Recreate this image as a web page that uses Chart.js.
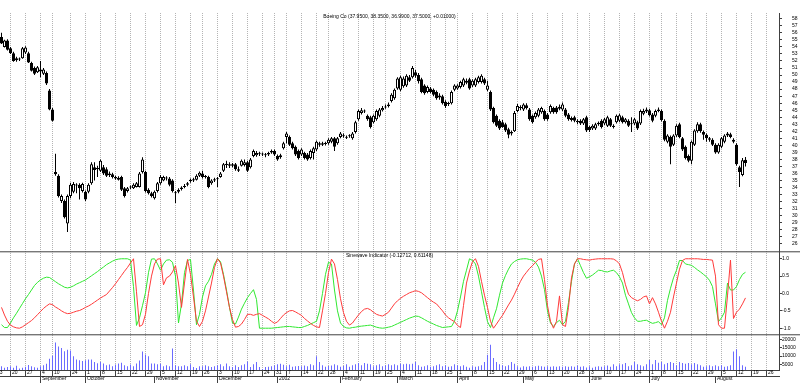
<!DOCTYPE html>
<html><head><meta charset="utf-8">
<script src="https://cdn.jsdelivr.net/npm/chart.js@4"></script>
<style>html,body{margin:0;padding:0;background:#fff;overflow:hidden}</style>
</head><body>
<canvas id="c" width="800" height="383"></canvas>
<script>
// ---------- categories (trading calendar) ----------
const calendarStart = '2001-08-13';
const calendarEnd = '2002-08-30';
const holidays = ['2001-09-03','2001-09-11','2001-09-12','2001-09-13','2001-09-14','2001-11-22','2001-12-25',
  '2002-01-01','2002-01-21','2002-02-18','2002-03-29','2002-05-27','2002-07-04'];
const dataStartOffset = 2; // first candle: 2001-08-15
const monthNames = ['2002','February','March','April','May','June','July','August','September','October','November','December'];

// ---------- series values (index 0 = 2001-08-15) ----------
const openPrices = [
55.4,54.0,54.9,53.8,53.1,52.4,52.2,52.4,53.2,53.1,
51.7,51.0,50.4,50.5,50.2,50.3,47.8,45.1,36.2,35.7,
32.1,32.1,28.9,32.8,33.4,34.3,34.4,33.5,33.4,33.4,
34.6,36.9,36.6,36.4,36.9,36.6,36.0,35.9,35.5,35.4,
35.5,33.9,33.5,34.0,33.9,34.1,34.1,36.2,36.2,33.7,
33.2,32.5,33.5,34.6,35.0,35.3,35.3,35.0,33.3,33.4,
33.8,34.1,34.4,34.9,35.0,35.1,35.7,36.0,35.6,35.5,
34.6,35.0,35.2,35.5,36.4,37.2,37.3,37.3,37.3,36.6,
37.1,37.2,37.6,36.9,38.5,38.6,38.9,38.8,38.7,38.7,
39.0,39.2,38.5,38.3,39.6,41.2,41.2,40.3,39.8,39.2,
38.7,38.9,38.7,38.2,38.9,39.4,40.3,40.1,40.2,40.3,
40.5,41.0,40.3,41.2,41.4,41.2,41.3,41.0,41.9,43.7,
44.6,44.9,44.2,44.0,43.3,43.7,44.2,45.0,45.4,45.6,
46.3,46.7,48.1,47.9,48.4,48.5,49.7,49.7,50.4,50.0,
49.4,48.5,47.6,48.1,47.9,47.6,47.1,47.0,46.2,45.9,
46.0,47.9,48.1,48.3,48.5,49.2,49.4,48.5,48.5,49.0,
49.0,49.4,47.9,47.6,45.3,44.2,43.5,43.3,43.0,42.3,
41.7,42.0,44.9,45.3,45.1,45.7,45.1,44.2,44.0,44.2,
44.7,44.9,44.4,44.7,45.3,45.4,45.2,45.1,45.1,44.4,
43.9,44.0,43.5,43.5,43.1,44.0,42.6,42.4,42.4,43.0,
43.5,43.1,42.8,43.7,42.8,43.3,43.5,44.0,43.3,43.5,
43.1,43.1,43.3,43.1,44.5,44.8,45.0,44.4,44.2,44.9,
44.9,43.5,40.5,41.2,40.1,41.4,43.0,41.0,39.8,38.5,
37.8,40.1,42.0,43.0,41.9,41.5,41.0,40.8,40.1,39.0,
39.8,40.5,41.4,41.6,40.8,40.1,36.9,35.8,37.95];
const highPrices = [
56.0,55.0,55.1,54.0,53.3,52.6,52.5,54.0,54.1,53.3,
51.9,51.2,51.3,52.0,51.0,50.5,48.0,45.3,38.8,35.9,
33.0,32.3,33.0,34.7,34.8,34.6,34.6,34.7,33.6,34.6,
37.6,37.6,37.1,38.0,37.2,36.9,36.3,36.1,35.7,35.6,
35.7,34.1,34.1,34.3,34.6,34.8,36.2,38.3,36.4,33.9,
33.4,33.6,34.8,35.8,35.7,35.6,35.5,35.2,33.5,33.9,
34.2,34.5,34.8,35.3,35.4,35.9,36.3,36.4,35.8,35.7,
35.2,35.4,35.5,36.2,37.5,37.8,37.6,37.5,37.5,37.0,
38.0,38.0,37.8,38.2,39.4,39.2,39.1,39.0,38.9,39.1,
39.4,39.4,38.7,38.8,40.5,41.9,41.4,40.5,40.0,39.4,
39.6,39.1,38.9,39.4,39.8,40.7,40.5,40.5,40.5,41.0,
41.2,41.2,41.2,41.9,41.7,41.4,41.6,41.9,43.5,45.1,
45.3,45.1,44.4,44.2,44.4,45.1,45.3,45.6,45.8,46.1,
47.4,48.1,49.7,49.9,49.8,50.1,50.0,51.3,50.7,50.3,
49.6,48.7,48.5,48.3,48.1,47.8,47.4,47.2,46.4,46.2,
47.8,48.7,48.7,49.2,49.6,49.5,49.6,49.4,49.6,49.9,
50.1,49.6,49.2,47.8,45.5,44.4,43.7,43.6,43.2,42.5,
42.1,44.9,45.9,45.7,46.0,46.0,45.3,44.4,44.8,45.3,
45.5,45.1,44.6,45.8,45.5,45.6,45.8,46.1,45.3,44.6,
44.1,44.2,43.7,43.7,43.9,44.2,42.8,43.0,43.2,43.4,
43.7,43.9,44.2,43.9,43.0,44.4,44.5,44.2,43.9,43.7,
44.0,43.9,43.5,45.1,45.2,45.4,45.2,44.6,45.1,45.4,
45.1,43.7,41.6,41.4,41.6,43.0,43.2,41.2,40.0,38.7,
40.7,42.3,43.3,43.2,42.1,41.7,41.2,41.0,40.3,40.3,
41.2,41.6,41.9,41.8,41.0,40.3,37.1,38.2,38.35];
const lowPrices = [
54.4,53.9,53.5,53.0,51.9,51.9,52.0,52.3,53.0,51.7,
50.5,50.0,50.3,49.7,50.0,48.6,45.0,43.4,35.7,32.6,
31.8,29.6,27.7,32.5,33.2,33.2,32.3,33.3,32.1,33.2,
34.4,35.0,35.5,36.2,35.8,35.5,35.5,35.3,35.1,35.0,
33.5,32.6,33.3,33.8,33.8,34.0,34.0,36.0,33.3,33.0,
32.6,32.3,33.3,34.4,34.9,35.0,34.2,33.3,31.8,33.2,
33.6,33.9,34.2,34.7,34.8,35.0,35.5,35.3,35.3,33.9,
34.4,34.8,34.1,35.4,36.2,36.8,36.8,36.9,36.4,36.2,
37.0,37.0,36.2,36.7,38.3,38.4,38.5,38.5,38.3,38.5,
38.8,38.5,37.8,38.1,39.4,40.3,39.9,39.4,38.5,38.0,
38.5,38.0,37.8,38.0,38.0,39.2,39.8,39.9,40.0,40.1,
40.3,39.2,40.1,41.0,41.1,40.9,41.1,40.8,41.7,43.5,
44.4,44.6,43.5,42.4,43.1,43.5,44.0,44.8,45.2,45.4,
46.1,46.5,47.9,47.7,48.2,48.3,49.0,49.5,49.6,48.8,
47.4,47.2,47.4,47.4,47.0,46.5,46.5,45.8,45.3,45.6,
45.8,47.7,47.9,48.1,48.3,48.7,47.9,48.3,48.3,48.8,
48.8,48.6,47.7,44.9,43.1,42.6,42.2,42.5,41.9,41.0,
41.4,41.9,44.7,45.0,44.9,45.1,43.5,43.1,43.8,44.0,
44.5,43.5,43.5,44.5,44.5,44.5,45.0,44.9,44.0,43.5,
43.4,43.3,43.0,42.9,42.9,41.9,41.9,42.2,42.2,42.8,
42.4,42.9,42.6,42.6,42.4,43.1,43.3,43.1,43.1,42.6,
41.9,42.9,42.2,42.9,44.3,44.6,44.1,43.3,44.0,44.7,
43.4,40.6,40.3,37.3,39.9,41.2,41.0,39.2,38.0,37.6,
37.3,39.9,41.8,41.8,40.8,40.5,40.5,39.9,38.8,38.8,
39.6,40.3,41.2,41.0,40.3,37.1,34.1,35.6,36.99];
const closePrices = [
54.5,54.9,53.6,53.1,52.0,52.1,52.3,53.8,53.9,51.8,
50.6,50.2,51.1,50.8,50.8,48.8,45.1,43.5,35.9,32.8,
32.8,29.8,32.8,34.4,34.5,34.4,33.9,34.5,32.3,34.4,
37.3,36.5,36.8,37.8,36.0,35.7,35.8,35.5,35.3,35.1,
33.7,32.8,33.9,34.1,34.4,34.6,36.0,38.0,33.5,33.2,
32.8,33.4,34.6,35.5,35.5,35.3,34.4,33.5,33.2,33.7,
34.0,34.2,34.6,35.1,35.2,35.7,36.1,35.5,35.5,34.1,
35.0,35.2,35.3,36.0,37.3,37.4,37.1,37.1,36.6,36.4,
37.8,37.6,36.4,38.0,39.2,38.9,38.8,38.7,38.6,38.9,
39.2,38.7,38.0,38.6,40.3,41.7,40.1,39.6,38.7,38.2,
39.4,38.2,38.0,39.2,39.6,40.5,40.1,40.3,40.3,40.8,
41.0,39.8,41.0,41.7,41.3,41.1,41.4,41.7,43.3,44.9,
45.0,44.8,43.7,42.6,44.2,44.9,45.1,45.3,45.5,45.8,
47.2,47.9,49.5,49.7,49.5,49.9,49.2,51.0,49.9,49.1,
47.6,47.4,48.3,47.6,47.2,46.7,46.8,46.0,45.6,46.0,
47.6,48.5,48.5,49.0,49.4,48.9,48.1,49.2,49.4,49.7,
49.9,48.8,48.5,45.1,43.3,42.8,42.4,42.6,42.1,41.5,
41.9,44.6,45.6,45.4,45.8,45.3,43.7,43.3,44.6,45.1,
45.3,43.7,43.7,45.6,44.7,44.7,45.5,45.8,44.2,43.7,
43.6,43.5,43.3,43.1,43.7,42.1,42.2,42.8,43.0,43.2,
42.6,43.7,44.0,42.8,42.6,44.2,44.3,43.3,43.7,42.8,
43.0,43.7,42.4,44.9,44.9,45.1,44.3,43.5,44.9,45.1,
43.6,40.8,41.4,39.8,41.4,42.8,41.2,39.4,38.2,37.8,
40.5,42.1,43.0,42.0,41.5,41.0,40.8,40.1,39.0,40.1,
41.0,41.4,41.7,41.2,40.5,37.3,36.2,37.9,37.5];
const sineValues = [
-0.40,-0.62,-0.80,-0.91,-0.96,-0.99,-1.00,-0.96,-0.90,-0.84,
-0.78,-0.70,-0.61,-0.52,-0.43,-0.36,-0.30,-0.32,-0.39,-0.44,
-0.50,-0.55,-0.58,-0.57,-0.54,-0.51,-0.49,-0.45,-0.40,-0.36,
-0.31,-0.25,-0.19,-0.13,-0.08,-0.03,0.07,0.17,0.28,0.40,
0.52,0.64,0.75,0.88,1.00,0.05,-0.95,-0.90,-0.60,0.00,
0.50,0.85,0.99,1.00,0.25,0.45,0.50,0.62,0.80,0.30,
-0.40,0.30,0.98,0.55,-0.10,-0.80,-0.95,-0.80,-0.50,-0.10,
0.30,0.75,1.00,0.88,0.50,0.05,-0.40,-0.75,-0.97,-0.95,
-0.88,-0.75,-0.60,-0.60,-0.63,-0.60,-0.58,-0.63,-0.68,-0.73,
-0.80,-0.86,-0.82,-0.72,-0.62,-0.55,-0.50,-0.49,-0.53,-0.58,
-0.63,-0.72,-0.79,-0.86,-0.92,-0.96,-0.98,-0.50,0.00,0.60,
0.99,0.85,0.40,-0.15,-0.55,-0.80,-0.91,-0.85,-0.73,-0.62,
-0.52,-0.45,-0.43,-0.47,-0.54,-0.60,-0.63,-0.65,-0.60,-0.54,
-0.42,-0.30,-0.21,-0.14,-0.08,-0.03,0.02,0.05,0.08,0.06,
0.02,-0.05,-0.12,-0.19,-0.25,-0.30,-0.40,-0.50,-0.62,-0.70,
-0.76,-0.81,-0.92,-0.98,-0.35,0.30,0.65,0.92,1.00,0.78,
0.35,-0.05,-0.40,-0.80,-1.00,-0.88,-0.75,-0.63,-0.48,-0.33,
-0.19,-0.02,0.17,0.35,0.50,0.61,0.72,0.80,0.90,0.98,
1.00,0.40,-0.35,-0.80,-1.00,-0.80,-0.07,-0.90,-0.95,-0.40,
0.45,0.85,1.00,1.00,0.98,0.97,0.96,0.98,0.99,1.00,
1.00,1.00,1.00,1.00,0.99,0.94,0.85,0.60,0.25,-0.02,
-0.12,-0.17,-0.21,-0.17,-0.10,-0.07,-0.30,-0.12,-0.30,-0.54,
-0.80,-1.00,-0.80,-0.54,-0.10,0.30,0.70,0.95,1.00,1.00,
1.00,1.00,1.00,0.99,0.98,0.98,0.97,0.96,0.50,-0.90,
-1.00,-1.00,-0.07,0.96,-0.72,-0.54,-0.45,-0.30,-0.127];
const leadSineValues = [
-0.90,-0.98,-0.98,-0.85,-0.70,-0.57,-0.43,-0.29,-0.15,-0.03,
0.10,0.23,0.32,0.39,0.44,0.47,0.46,0.40,0.34,0.28,
0.23,0.18,0.16,0.18,0.22,0.27,0.31,0.35,0.39,0.45,
0.51,0.57,0.63,0.70,0.76,0.83,0.88,0.93,0.97,0.99,
1.00,1.00,1.00,0.96,0.20,-0.92,-0.70,-0.35,0.02,0.60,
0.99,1.00,0.85,0.67,0.85,0.96,0.97,0.90,0.50,-0.85,
-0.30,0.60,0.95,0.98,0.10,-0.90,-0.60,-0.10,0.22,0.35,
0.55,0.85,1.00,0.92,0.55,0.10,-0.40,-0.85,-0.88,-0.68,
-0.45,-0.28,-0.12,0.00,0.11,-0.17,-1.00,-1.00,-1.00,-1.00,
-1.00,-0.99,-0.98,-0.97,-0.96,-0.95,-0.95,-0.96,-0.97,-0.98,
-0.98,-0.95,-0.92,-0.88,-0.84,-0.80,-0.50,0.00,0.55,0.90,
0.85,0.10,-0.50,-0.85,-0.95,-0.99,-1.00,-0.98,-0.97,-0.95,
-0.94,-0.93,-0.92,-0.91,-0.94,-0.97,-0.99,-1.00,-0.99,-0.97,
-0.95,-0.91,-0.87,-0.83,-0.79,-0.75,-0.71,-0.68,-0.65,-0.66,
-0.70,-0.75,-0.80,-0.84,-0.88,-0.92,-0.95,-0.98,-0.97,-0.96,
-0.95,-0.80,-0.50,-0.10,0.35,0.67,1.00,0.95,0.85,0.50,
0.05,-0.40,-0.81,-0.98,-0.70,-0.44,-0.05,0.30,0.52,0.70,
0.85,0.92,0.97,0.99,1.00,1.00,0.98,0.96,0.90,0.76,
0.50,0.11,-0.50,-0.85,-0.95,-0.84,-0.77,-0.90,-0.80,-0.26,
0.35,0.85,1.00,0.80,0.60,0.44,0.48,0.53,0.60,0.67,
0.66,0.63,0.62,0.65,0.67,0.60,0.48,0.30,-0.05,-0.30,
-0.55,-0.70,-0.80,-0.80,-0.78,-0.77,-0.82,-0.86,-0.84,-0.81,
-0.90,-0.70,-0.20,0.15,0.45,0.67,0.95,0.95,0.85,0.83,
0.81,0.75,0.68,0.62,0.55,0.48,0.38,0.20,-0.30,-0.81,
-0.70,-0.54,0.30,0.10,0.10,0.20,0.40,0.55,0.611];
const volumes = [
3700,2800,3200,3700,2800,4100,2300,2800,3400,4500,
3700,3100,2800,3700,4300,5300,8300,10200,18400,15900,
14900,12900,13900,13400,9900,7900,7400,6900,7400,7900,
7900,6400,5600,6400,5400,4400,4800,3700,4800,5400,
5900,4300,3700,4800,3700,5400,7300,12800,10900,9800,
5400,5400,4900,5300,3700,4300,3700,14700,4300,3700,
3700,4300,3700,4900,3200,2600,3700,3700,4300,3700,
3200,3700,4300,4900,3700,5400,3700,3200,4300,3200,
4300,4900,6600,3200,4900,6300,3200,2000,3200,3400,
3750,4300,4900,5300,4700,3750,4700,3400,3750,3950,
3750,4150,3750,4900,4400,9800,6300,4300,3400,3950,
4150,4900,4300,3400,3950,4900,3400,4300,4900,5700,
4300,5700,5300,4900,3750,4300,4900,3750,4300,4900,
4300,4900,4300,5300,4900,5300,4900,5300,6300,4300,
3400,3750,4300,3400,3750,4300,4900,3750,4300,3400,
3750,4900,4300,3750,4300,3400,2800,3750,3400,3750,
4300,6300,10800,17000,8850,6300,4900,4300,3750,4300,
6300,5300,3750,3000,3750,3400,3750,3400,3750,4000,
3750,3400,3750,3400,3750,3400,3750,3400,3750,3400,
3750,3400,4150,3400,3750,3000,3750,2800,3400,3750,
3400,3750,4150,3400,4900,3750,4900,4900,5700,3750,
4300,6300,4900,4300,3750,4900,7500,4900,7500,5900,
6300,4900,5700,6300,5700,4300,6300,5700,5300,5700,
4900,5700,4900,4300,3400,3750,4300,3750,4300,3750,
4300,3400,3750,4400,12800,14100,9800,4300,3400];

// ---------- tick labels ----------
const priceTicks = [26,27,28,29,30,31,32,33,34,35,36,37,38,39,40,41,42,43,44,45,46,47,48,49,50,51,52,53,54,55,56,57,58];
const sineTicks = [-1,-0.5,0,0.5,1];
const volumeTicks = [5000,10000,15000,20000];
const priceTitle = 'Boeing Co (37.9500, 38.3500, 36.9900, 37.5000, +0.01000)';
const sineTitle = 'Sinewave Indicator (-0.12712, 0.61148)';

// ---------- build trading calendar ----------
const tradingDays = [];
(function(){
  const s = Date.parse(calendarStart + 'T00:00:00Z'), e = Date.parse(calendarEnd + 'T00:00:00Z');
  for (let t = s; t <= e; t += 86400000) {
    const d = new Date(t), dow = d.getUTCDay(), iso = d.toISOString().slice(0,10);
    if (dow === 0 || dow === 6 || holidays.includes(iso)) continue;
    tradingDays.push({t, dow, y: d.getUTCFullYear(), m: d.getUTCMonth(), d: d.getUTCDate()});
  }
})();
const weekKey = td => td.t - (td.dow - 1) * 86400000;
const dayTickIdx = [];
tradingDays.forEach((td, i) => {
  if (i === 0 || weekKey(td) !== weekKey(tradingDays[i-1])) {
    const last = dayTickIdx[dayTickIdx.length - 1];
    if (last === undefined || i - last >= 3) dayTickIdx.push(i);
  }
});
const monthTickIdx = [];
tradingDays.forEach((td, i) => { if (i > 0 && td.m !== tradingDays[i-1].m) monthTickIdx.push(i); });
const monthLabel = i => { const m = tradingDays[i].m; return m === 0 ? String(tradingDays[i].y) : monthNames[m]; };

const pos = openPrices.map((_, k) => k + dataStartOffset);
const bodies = pos.map((x, k) => ({x, y: [openPrices[k], closePrices[k]]}));
const wicks = pos.map((x, k) => ({x, y: [lowPrices[k], highPrices[k]]}));
const bodyColors = pos.map((_, k) => closePrices[k] >= openPrices[k] ? '#ffffff' : '#000000');
const sinePts = pos.map((x, k) => ({x, y: sineValues[k]}));
const leadPts = pos.map((x, k) => ({x, y: leadSineValues[k]}));
const volPts = pos.map((x, k) => ({x, y: volumes[k]}));

const FONT = '"Liberation Sans", Arial, sans-serif';
Chart.defaults.font.family = FONT;
Chart.defaults.font.size = 5;
Chart.defaults.color = '#000';

const AXIS = '#404040';
const overlay = {
  id: 'overlay',
  afterDraw(chart) {
    const {ctx, chartArea: a} = chart;
    const py = chart.scales.y, sy = chart.scales.ys, vy = chart.scales.yv;
    ctx.save();
    ctx.strokeStyle = AXIS; ctx.lineWidth = 1;
    [sy.top, vy.top].forEach(yy => { ctx.beginPath(); ctx.moveTo(0, yy); ctx.lineTo(chart.width, yy); ctx.stroke(); });
    ctx.fillStyle = '#000'; ctx.font = '5px ' + FONT; ctx.textAlign = 'center'; ctx.textBaseline = 'middle';
    ctx.fillText(priceTitle, (a.left + a.right) / 2, py.top + 4);
    ctx.fillText(sineTitle, (a.left + a.right) / 2, sy.top + 4);
    ctx.restore();
  }
};

const yAxisBase = (ticksArr, weight, min, max, pad, fmt) => ({
  type: 'linear', position: 'right', stack: 'panes', stackWeight: weight, min, max, bounds: 'data',
  afterBuildTicks: s => { s.ticks = ticksArr.map(v => ({value: v})); },
  afterFit: s => { s.width = 21; },
  grid: {drawOnChartArea: false, drawTicks: true, tickLength: 3, color: AXIS, tickColor: AXIS},
  border: {display: true, color: AXIS},
  ticks: {autoSkip: false, padding: pad, crossAlign: 'near', font: {size: 5}, color: '#000', callback: fmt}
});

new Chart(document.getElementById('c'), {
  type: 'bar',
  data: {datasets: [
    {type: 'bar', data: bodies, xAxisID: 'x', yAxisID: 'y', barThickness: 3, grouped: false, backgroundColor: bodyColors,
     borderColor: '#000', borderWidth: 1, borderSkipped: false, inflateAmount: 0, minBarLength: 1, order: 0},
    {type: 'bar', data: wicks, xAxisID: 'x', yAxisID: 'y', barThickness: 1, grouped: false, backgroundColor: '#000',
     borderWidth: 0, inflateAmount: 0, order: 1},
    {type: 'line', data: sinePts, xAxisID: 'x', yAxisID: 'ys', borderColor: '#ff3a3a', borderWidth: 1, pointRadius: 0, tension: 0, fill: false, order: 2},
    {type: 'line', data: leadPts, xAxisID: 'x', yAxisID: 'ys', borderColor: '#30e830', borderWidth: 1, pointRadius: 0, tension: 0, fill: false, order: 3},
    {type: 'bar', data: volPts, xAxisID: 'x', yAxisID: 'yv', barThickness: 1, grouped: false, backgroundColor: '#6b6bff',
     borderWidth: 0, inflateAmount: 0, order: 4}
  ]},
  options: {
    responsive: false, animation: false, devicePixelRatio: 1, events: [],
    layout: {padding: 0},
    plugins: {legend: {display: false}, tooltip: {enabled: false}, title: {display: false}},
    scales: {
      x: {type: 'linear', position: 'bottom', min: 1.5, max: 261.1667, bounds: 'data', offset: false,
        afterBuildTicks: s => { s.ticks = dayTickIdx.map(v => ({value: v})); },
        afterFit: s => { s.height = 6; },
        grid: {offset: false, drawOnChartArea: true, drawTicks: true, tickLength: 6, color: '#b4b4b4', tickColor: AXIS, tickBorderDash: [], lineWidth: 1},
        border: {display: true, color: AXIS, dash: [1, 1]},
        ticks: {autoSkip: false, maxRotation: 0, minRotation: 0, align: 'start', padding: -6, font: {size: 5}, color: '#000',
          callback: v => ' ' + tradingDays[v].d}
      },
      xm: {type: 'linear', position: 'bottom', min: 1.5, max: 261.1667, bounds: 'data', offset: false,
        afterBuildTicks: s => { s.ticks = monthTickIdx.map(v => ({value: v})); },
        afterFit: s => { s.height = 7; },
        grid: {offset: false, drawOnChartArea: false, drawTicks: true, tickLength: 7, color: AXIS, tickColor: AXIS},
        border: {display: true, color: AXIS},
        ticks: {autoSkip: false, maxRotation: 0, minRotation: 0, align: 'start', padding: -7, font: {size: 5}, color: '#000',
          callback: v => ' ' + monthLabel(v)}
      },
      y: yAxisBase(priceTicks, 247.5, 24.87, 58.82, 10, v => String(v)),
      ys: yAxisBase(sineTicks, 86, -1.189, 1.2, 0, v => v.toFixed(1)),
      yv: yAxisBase(volumeTicks, 36.5, 1420, 23070, 0, v => String(v))
    }
  },
  plugins: [overlay]
});
</script>
</body></html>
